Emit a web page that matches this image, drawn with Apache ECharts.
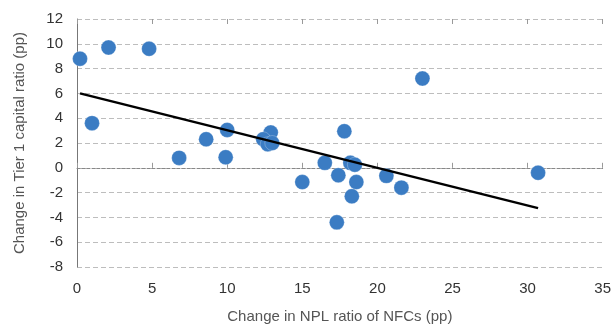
<!DOCTYPE html>
<html>
<head>
<meta charset="utf-8">
<script src="https://cdn.jsdelivr.net/npm/echarts@6/dist/echarts.min.js"></script>
<style>
  html, body { margin: 0; padding: 0; background: #fff; }
  #chart { width: 614px; height: 329px; }
</style>
</head>
<body>
<div id="chart"></div>
<script>
// Change in NPL ratio of NFCs (pp) vs change in Tier 1 capital ratio (pp)
const nplChange = [0.2, 2.1, 4.8, 1.0, 6.8, 8.6, 10.0, 9.9, 12.9, 12.4, 12.7, 13.0, 23.0,
                   17.8, 16.5, 18.2, 18.5, 15.0, 17.4, 18.6, 18.3, 17.3, 20.6, 21.6, 30.7];
const tier1Change = [8.8, 9.7, 9.6, 3.6, 0.8, 2.3, 3.05, 0.85, 2.85, 2.3, 1.9, 2.0, 7.2,
                     2.95, 0.4, 0.4, 0.25, -1.15, -0.6, -1.15, -2.3, -4.4, -0.65, -1.6, -0.4];
// Linear trend endpoints [x, y]
const trendX = [0.2, 30.7];
const trendY = [6.0, -3.25];

const xTicks = { min: 0, max: 35, interval: 5 };
const yTicks = { min: -8, max: 12, interval: 2 };

const points = nplChange.map((x, i) => [x, tier1Change[i]]);
const trend = trendX.map((x, i) => [x, trendY[i]]);

const font = 'Liberation Sans, Arial, Helvetica, sans-serif';
const chart = echarts.init(document.getElementById('chart'));

const baseX = {
  type: 'value', min: xTicks.min, max: xTicks.max, interval: xTicks.interval,
  splitLine: { show: false }
};

chart.setOption({
  animation: false,
  textStyle: { fontFamily: font },
  grid: { left: 77, right: 8, top: 19, bottom: 61 },
  xAxis: [
    Object.assign({}, baseX, {
      axisLine: { show: false, onZero: false },
      axisTick: { show: false },
      axisLabel: { color: '#333', fontSize: 15, margin: 14, fontFamily: font },
      name: 'Change in NPL ratio of NFCs (pp)',
      nameLocation: 'middle', nameGap: 42,
      nameTextStyle: { color: '#555', fontSize: 15, fontFamily: font }
    }),
    Object.assign({}, baseX, {
      axisLine: { show: true, onZero: true, lineStyle: { color: '#888', type: [3, 2], width: 1 } },
      axisTick: { show: true, inside: false, length: 5, lineStyle: { color: '#999' } },
      axisLabel: { show: false }
    }),
    Object.assign({}, baseX, {
      axisLine: { show: false, onZero: true },
      axisTick: { show: true, inside: true, length: 5, lineStyle: { color: '#999' } },
      axisLabel: { show: false }
    })
  ],
  yAxis: {
    type: 'value', min: yTicks.min, max: yTicks.max, interval: yTicks.interval,
    axisLine: { show: true, lineStyle: { color: '#777', width: 1 } },
    axisTick: { show: false },
    axisLabel: { color: '#333', fontSize: 15, margin: 14, fontFamily: font },
    splitLine: { show: true, lineStyle: { color: '#bdbdbd', type: [5, 3], width: 1 } },
    name: 'Change in Tier 1 capital ratio (pp)',
    nameLocation: 'middle', nameGap: 50,
    nameTextStyle: { color: '#555', fontSize: 15, fontFamily: font }
  },
  series: [
    {
      type: 'scatter',
      data: points,
      symbolSize: 15,
      itemStyle: { color: '#3b7cc3', opacity: 1, borderColor: 'rgba(255,255,255,0.5)', borderWidth: 0.5 },
      z: 2
    },
    {
      type: 'line',
      data: trend,
      symbol: 'none',
      lineStyle: { color: '#000', width: 2.5 },
      z: 3
    }
  ]
});
</script>
</body>
</html>
